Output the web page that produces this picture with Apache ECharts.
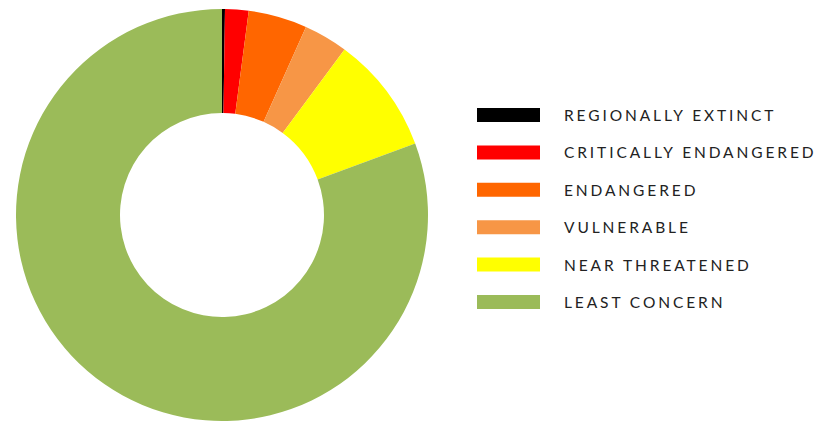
<!DOCTYPE html>
<html>
<head>
<meta charset="utf-8">
<script src="https://cdn.jsdelivr.net/npm/echarts@6/dist/echarts.min.js"></script>
<style>
  html, body { margin: 0; padding: 0; background: #fff; }
  #chart { width: 816px; height: 423px; }
  /* legend text in the original is widely tracked */
  #chart svg text { letter-spacing: 2.9px; }
</style>
</head>
<body>
<div id="chart"></div>
<script>
var categories = ['REGIONALLY EXTINCT', 'CRITICALLY ENDANGERED', 'ENDANGERED', 'VULNERABLE', 'NEAR THREATENED', 'LEAST CONCERN'];
var counts = [1, 8, 20, 15, 40, 350];
var colors = ['#000000', '#ff0000', '#ff6600', '#f79646', '#ffff00', '#9bbb59'];

var chart = echarts.init(document.getElementById('chart'), null, { renderer: 'svg' });

var data = categories.map(function (name, i) {
    return { name: name, value: counts[i], itemStyle: { color: colors[i] } };
});

chart.setOption({
    animation: false,
    legend: {
        orient: 'vertical',
        left: 472,
        top: 102,
        icon: 'rect',
        itemWidth: 63,
        itemHeight: 14,
        itemGap: 21.4,
        textStyle: {
            fontFamily: 'Lato',
            fontSize: 15.5,
            color: '#222',
            lineHeight: 14,
            padding: [0, 0, 0, 19]
        },
        data: categories
    },
    series: [{
        type: 'pie',
        center: [222, 215],
        radius: [102, 206],
        startAngle: 90,
        clockwise: true,
        label: { show: false },
        labelLine: { show: false },
        silent: true,
        data: data
    }]
});
</script>
</body>
</html>
